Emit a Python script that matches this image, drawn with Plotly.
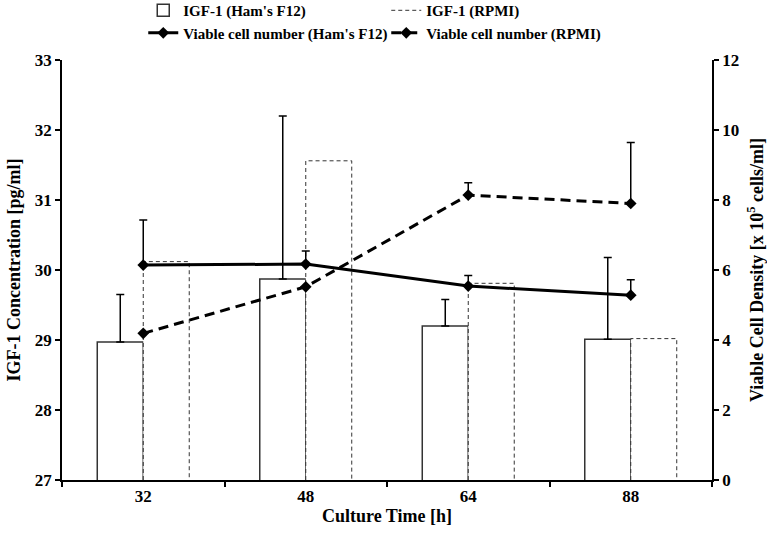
import plotly.graph_objects as go

# culture time categories (h)
times = ["32", "48", "64", "88"]

# IGF-1 concentration [pg/ml]
igf_ham = [28.97, 29.87, 29.20, 29.01]
igf_ham_err = [0.68, 2.33, 0.38, 1.17]
igf_rpmi = [30.12, 31.56, 29.81, 29.02]

# viable cell density [x 10^5 cells/ml]
cells_ham = [6.14, 6.17, 5.54, 5.28]
cells_ham_err = [1.29, 0.37, 0.30, 0.44]
cells_rpmi = [4.19, 5.52, 8.14, 7.90]
cells_rpmi_err = [0, 0, 0.35, 1.74]

FONT = "Liberation Serif"
pos = list(range(len(times)))
bw = 0.283
ymin = 27

fig = go.Figure()

fig.add_trace(go.Bar(
    x=pos, y=igf_ham, width=bw, offset=-bw,
    name="IGF-1 (Ham's F12)",
    marker=dict(color="white", line=dict(color="#333333", width=1.5)),
    error_y=dict(type="data", array=igf_ham_err, symmetric=False, arrayminus=[0] * 4,
                 color="black", thickness=1.5, width=4),
))
fig.add_trace(go.Bar(
    x=pos, y=igf_rpmi, width=bw, offset=0, showlegend=False,
    marker=dict(color="white", line=dict(width=0)),
    hoverinfo="skip",
))

# dashed outline for RPMI bars (plotly bars can't dash their border)
ox, oy = [], []
for p, v in zip(pos, igf_rpmi):
    ox += [p, p, p + bw, p + bw, None]
    oy += [ymin, v, v, ymin, None]
fig.add_trace(go.Scatter(
    x=ox, y=oy, mode="lines", name="IGF-1 (RPMI)",
    line=dict(color="#333333", width=1, dash="4px,3px"),
))

fig.add_trace(go.Scatter(
    x=pos, y=cells_ham, yaxis="y2", mode="lines+markers",
    name="Viable cell number (Ham's F12)",
    line=dict(color="black", width=3),
    marker=dict(symbol="diamond", size=9, color="black"),
    error_y=dict(type="data", array=cells_ham_err, symmetric=False, arrayminus=[0] * 4,
                 color="black", thickness=1.5, width=4),
))
fig.add_trace(go.Scatter(
    x=pos, y=cells_rpmi, yaxis="y2", mode="lines+markers",
    name="Viable cell number (RPMI)",
    line=dict(color="black", width=3, dash="10px,6px"),
    marker=dict(symbol="diamond", size=9, color="black"),
    error_y=dict(type="data", array=cells_rpmi_err, symmetric=False, arrayminus=[0] * 4,
                 color="black", thickness=1.5, width=4),
))

tickfont = dict(family=FONT, size=17, color="black", weight="bold")
titlefont = dict(family=FONT, size=18, color="black", weight="bold")

fig.update_layout(
    width=767, height=533,
    margin=dict(l=62, r=55, t=60, b=53, autoexpand=False),
    plot_bgcolor="white", paper_bgcolor="white",
    font=dict(family=FONT, color="black"),
    barmode="overlay",
    xaxis=dict(
        range=[-0.5, 3.5], tickvals=pos, ticktext=times, ticks="",
        showline=True, linecolor="black", linewidth=1.5, showgrid=False, zeroline=False,
        minor=dict(tick0=-0.5, dtick=1, ticks="outside", ticklen=5, tickcolor="black", tickwidth=1.5),
        tickfont=tickfont, automargin=False,
        title=dict(text="Culture Time [h]", font=titlefont, standoff=4),
    ),
    yaxis=dict(
        range=[27, 33], dtick=1, ticks="outside", ticklen=5, tickcolor="black", tickwidth=1.5,
        showline=True, linecolor="black", linewidth=1.5, showgrid=False, zeroline=False,
        tickfont=tickfont, automargin=False,
        title=dict(text="IGF-1 Concentration [pg/ml]", font=titlefont, standoff=10),
    ),
    yaxis2=dict(
        range=[0, 12], dtick=2, overlaying="y", side="right",
        ticks="outside", ticklen=5, tickcolor="black", tickwidth=1.5,
        showline=True, linecolor="black", linewidth=1.5, showgrid=False, zeroline=False,
        tickfont=tickfont, automargin=False,
        title=dict(text="Viable Cell Density [x 10<sup>5</sup> cells/ml]", font=titlefont, standoff=12),
    ),
    legend=dict(
        orientation="h", x=0.125, xanchor="left", y=1.157, yanchor="top",
        entrywidth=198, font=dict(family=FONT, size=15, color="black", weight="bold"),
        bgcolor="rgba(0,0,0,0)", traceorder="normal",
    ),
)

# page has a default 8px body margin; drop it so the figure fills the window
fig.write_html("out.html", config={"displayModeBar": False},
               post_script="document.body.style.margin='0';")
